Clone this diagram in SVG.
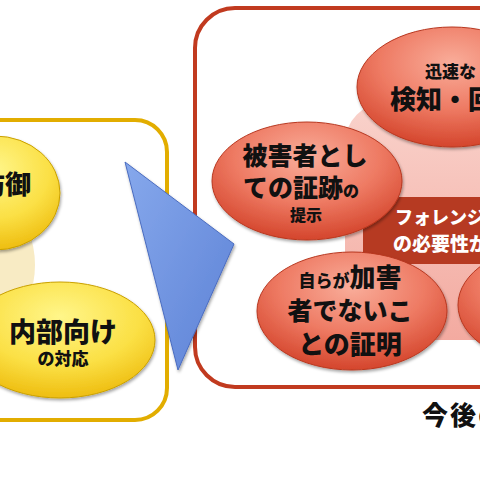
<svg xmlns="http://www.w3.org/2000/svg" width="480" height="480" viewBox="0 0 480 480">
<defs>
<radialGradient id="gy" cx="50%" cy="30%" r="70%">
<stop offset="0" stop-color="#fff68a"/>
<stop offset="0.6" stop-color="#fbe045"/>
<stop offset="1" stop-color="#eebd10"/>
</radialGradient>
<radialGradient id="gr" cx="50%" cy="30%" r="70%">
<stop offset="0" stop-color="#f9ad9a"/>
<stop offset="0.55" stop-color="#ee7a63"/>
<stop offset="1" stop-color="#d4452c"/>
</radialGradient>
<linearGradient id="gb" x1="0" y1="0" x2="1" y2="1">
<stop offset="0" stop-color="#86a8ec"/>
<stop offset="1" stop-color="#5d82d6"/>
</linearGradient>
<linearGradient id="gp" x1="0" y1="0" x2="0" y2="1">
<stop offset="0" stop-color="#f9d2cb"/>
<stop offset="1" stop-color="#f3aaa0"/>
</linearGradient>
<filter id="sh" x="-20%" y="-20%" width="140%" height="140%">
<feDropShadow dx="1" dy="2" stdDeviation="1.5" flood-color="#000" flood-opacity="0.35"/>
</filter>
<style>
.yel{fill:url(#gy);stroke:#c9a000;stroke-width:1;filter:url(#sh)}
.red{fill:url(#gr);stroke:#b8371f;stroke-width:1;filter:url(#sh)}
.t{font-family:"Noto Sans CJK JP","Noto Sans",sans-serif;font-weight:900;fill:#111}
.w{font-family:"Noto Sans CJK JP","Noto Sans",sans-serif;font-weight:900;fill:#fff}
</style>
</defs>
<rect width="480" height="480" fill="#fff"/>

<g id="yellow-box">
<rect x="-40" y="120" width="207" height="300" rx="32" fill="#fff" stroke="#e2ad00" stroke-width="4"/>
<circle cx="-60" cy="265" r="95" fill="#f8ebc4"/>
</g>

<g id="node-bougyo">
<ellipse class="yel" cx="-5" cy="193" rx="65" ry="57"/>
<text class="t" x="31" y="194" font-size="26" text-anchor="end">防御</text>
</g>

<g id="node-naibu">
<ellipse class="yel" cx="60" cy="340" rx="95" ry="58"/>
<text class="t" x="63" y="342" font-size="27" text-anchor="middle">内部向け</text>
<text class="t" x="63" y="365" font-size="17" text-anchor="middle">の対応</text>
</g>

<g id="red-box">
<rect x="195" y="8" width="400" height="379" rx="40" fill="#fff" stroke="#c13a1f" stroke-width="4"/>
<rect x="345" y="103" width="220" height="237" rx="40" fill="url(#gp)"/>
</g>

<g id="node-forensic">
<rect x="363" y="197" width="200" height="67" rx="10" fill="#b63a22"/>
<text class="w" x="395" y="224" font-size="18">フォレンジック</text>
<text class="w" x="393" y="251" font-size="19">の必要性が</text>
</g>

<g id="node-kenchi">
<ellipse class="red" cx="452" cy="87" rx="95" ry="60"/>
<text class="t" x="425" y="78" font-size="17">迅速な</text>
<text class="t" x="390" y="109" font-size="26">検知・回復</text>
</g>

<g id="node-higaisha">
<ellipse class="red" cx="307" cy="181" rx="95" ry="59"/>
<text class="t" x="305" y="165" font-size="25" text-anchor="middle">被害者とし</text>
<text class="t" x="243" y="197" font-size="25">ての証跡<tspan font-size="16">の</tspan></text>
<text class="t" x="306" y="221" font-size="16" text-anchor="middle">提示</text>
</g>

<g id="node-kagaisha">
<ellipse class="red" cx="352" cy="311" rx="95" ry="59"/>
<text class="t" x="350" y="287" font-size="26" text-anchor="middle"><tspan font-size="17">自らが</tspan>加害</text>
<text class="t" x="350" y="320" font-size="25" text-anchor="middle">者でないこ</text>
<text class="t" x="350" y="354" font-size="26" text-anchor="middle">との証明</text>
</g>

<g id="node-right">
<ellipse class="red" cx="550" cy="305" rx="92" ry="59"/>
</g>

<g id="connectors">
<polygon points="125,162 234,244 178,370" fill="url(#gb)" stroke="#4a6cc0" stroke-width="1" filter="url(#sh)"/>
</g>

<text class="t" x="422" y="425" font-size="26" letter-spacing="2">今後の対策</text>
</svg>
